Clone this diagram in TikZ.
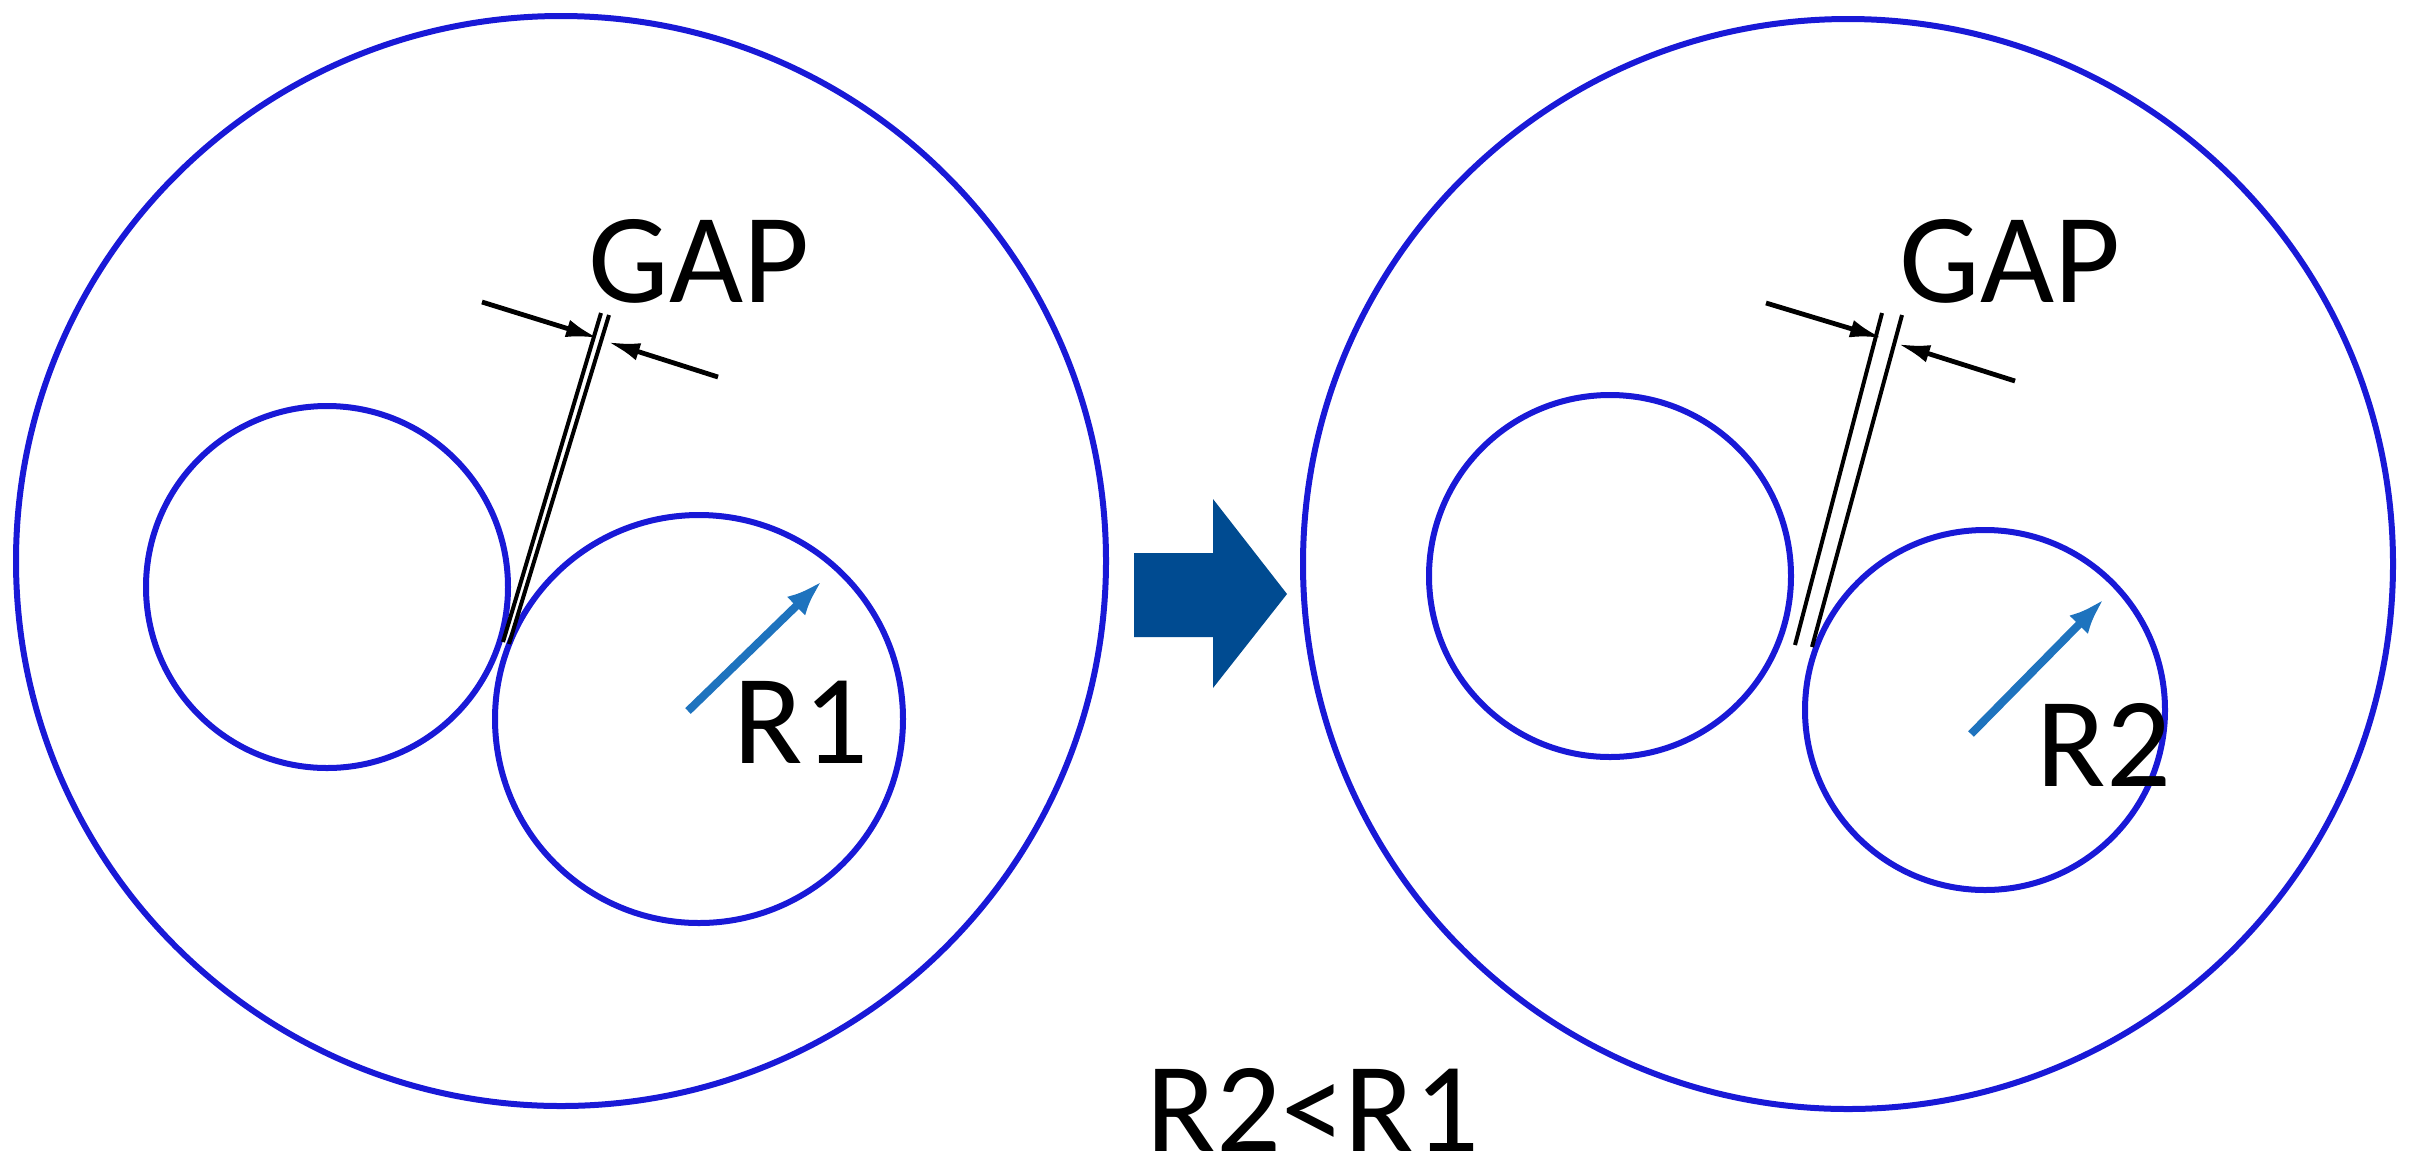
\documentclass[tikz,border=0pt]{standalone}
\usepackage{fontspec}
\setmainfont{Carlito}
\usetikzlibrary{arrows.meta}
\definecolor{cb}{RGB}{25,25,215}
\definecolor{db}{RGB}{0,75,145}
\definecolor{lb}{RGB}{30,115,190}
\begin{document}
\begin{tikzpicture}[x=0.5pt,y=-0.5pt,
  circ/.style={draw=cb,line width=3pt},
  gl/.style={line width=2pt},
  dim/.style={line width=2.4pt,-{Latex[length=16pt,width=9pt]}},
  lbl/.style={font=\fontsize{64}{70}\selectfont,inner sep=0pt},
  rad/.style={draw=lb,line width=4pt,-{Latex[length=18pt,width=13pt]}}]
\useasboundingbox (0,0) rectangle (2409,1174);
% left
\draw[circ] (561,561) circle[radius=272.5pt];
\draw[circ] (327,587) circle[radius=90.5pt];
\draw[circ] (699,719) circle[radius=102pt];
\draw[gl] (503,642) -- (601,313);
\draw[gl] (509,644) -- (609,315);
\coordinate (la) at (482,302); \coordinate (lb) at (718,377);
\draw[dim] (la) -- (598,338);
\draw[dim] (lb) -- (608,342);
\node[lbl] (gap1) at (699,261) {GAP};
\draw[rad] (688,711) -- (822,581);
\node[lbl] (r1) at (801,722) {R1};
% arrow
\fill[db] (1134,553) -- (1213,553) -- (1213,499) -- (1287,594) -- (1213,688) -- (1213,637) -- (1134,637) -- cycle;
% right
\draw[circ] (1848,564) circle[radius=272.5pt];
\draw[circ] (1610,576) circle[radius=90.5pt];
\draw[circ] (1985,710) circle[radius=90pt];
\draw[gl] (1795,645) -- (1882,313);
\draw[gl] (1812,647) -- (1902,315);
\coordinate (ra) at (1766,303); \coordinate (rb) at (2015,381);
\draw[dim] (ra) -- (1882,338);
\draw[dim] (rb) -- (1898,344);
\node[lbl] (gap2) at (2010,261) {GAP};
\draw[rad] (1971,734) -- (2104,599);
\node[lbl] (r2) at (2104,745) {R2};
\node[lbl] (cmp) at (1313,1110) {R2<R1};
\end{tikzpicture}
\end{document}
